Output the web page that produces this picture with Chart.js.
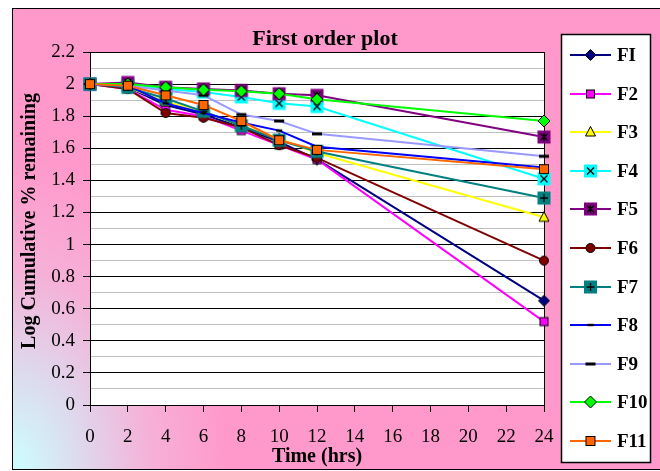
<!DOCTYPE html>
<html>
<head>
<meta charset="utf-8">
<title>First order plot</title>
<script src="https://cdn.jsdelivr.net/npm/chart.js@4/dist/chart.umd.min.js"></script>
<style>
  html, body { margin: 0; padding: 0; background: #fff; overflow: hidden; }
  #wrap { position: relative; width: 660px; height: 471px; }
</style>
</head>
<body>
<div id="wrap"><canvas id="chart" width="660" height="471"></canvas></div>
<script>
// Sampling times (hours)
const hours = [0, 2, 4, 6, 8, 10, 12, 24];

// Log cumulative % remaining for each formulation
const F1  = [2.00, 1.98, 1.87, 1.81, 1.73, 1.64, 1.53, 0.65];
const F2  = [2.00, 1.97, 1.84, 1.80, 1.71, 1.62, 1.53, 0.52];
const F3  = [2.00, 1.98, 1.89, 1.83, 1.74, 1.66, 1.57, 1.17];
const F4  = [2.00, 2.00, 1.97, 1.95, 1.92, 1.88, 1.86, 1.41];
const F5  = [2.00, 2.01, 1.98, 1.97, 1.96, 1.94, 1.93, 1.67];
const F6  = [2.00, 1.97, 1.82, 1.79, 1.73, 1.62, 1.54, 0.90];
const F7  = [2.00, 1.98, 1.91, 1.83, 1.74, 1.65, 1.58, 1.29];
const F8  = [2.00, 1.99, 1.88, 1.82, 1.76, 1.71, 1.61, 1.48];
const F9  = [2.00, 1.99, 1.96, 1.93, 1.81, 1.77, 1.69, 1.55];
const F10 = [2.00, 2.00, 1.98, 1.965, 1.955, 1.94, 1.905, 1.77];
const F11 = [2.00, 1.99, 1.93, 1.87, 1.77, 1.65, 1.59, 1.47];

const seriesLabels = ['FI', 'F2', 'F3', 'F4', 'F5', 'F6', 'F7', 'F8', 'F9', 'F10', 'F11'];
const seriesValues = [F1, F2, F3, F4, F5, F6, F7, F8, F9, F10, F11];

// Axis tick values
const xTickStep = 2;
const yTickStep = 0.1;

// Line colour and marker look of each series
const seriesStyle = [
  { line: '#000080', shape: 'diamond',  fill: '#000080', size: 5.5 },
  { line: '#ff00ff', shape: 'square',   fill: '#ff00ff', size: 8 },
  { line: '#ffff00', shape: 'triangle', fill: '#ffff00', size: 10 },
  { line: '#00ffff', shape: 'xbox',     fill: '#00ffff', size: 13 },
  { line: '#800080', shape: 'starbox',  fill: '#800080', size: 13 },
  { line: '#800000', shape: 'circle',   fill: '#800000', size: 4.5 },
  { line: '#008080', shape: 'plusbox',  fill: '#008080', size: 13 },
  { line: '#0000ff', shape: 'dash',     fill: '#000000', size: 6 },
  { line: '#9999ff', shape: 'dash',     fill: '#000000', size: 10 },
  { line: '#00ff00', shape: 'diamond',  fill: '#00ff00', size: 6 },
  { line: '#ff6600', shape: 'square',   fill: '#ff6600', size: 9 }
];

const SERIF = '"Liberation Serif", "Times New Roman", Times, serif';

function drawMarker(ctx, st, cx, cy) {
  ctx.save();
  ctx.lineWidth = 1;
  ctx.strokeStyle = '#000';
  ctx.fillStyle = st.fill;
  const s = st.size;
  switch (st.shape) {
    case 'diamond':
      ctx.beginPath();
      ctx.moveTo(cx, cy - s); ctx.lineTo(cx + s, cy); ctx.lineTo(cx, cy + s); ctx.lineTo(cx - s, cy);
      ctx.closePath(); ctx.fill(); ctx.stroke();
      break;
    case 'square':
      ctx.fillRect(cx - s / 2, cy - s / 2, s, s);
      ctx.strokeRect(cx - s / 2, cy - s / 2, s, s);
      break;
    case 'triangle':
      ctx.beginPath();
      ctx.moveTo(cx, cy - s / 2 - 0.5); ctx.lineTo(cx + s / 2, cy + s / 2 - 1); ctx.lineTo(cx - s / 2, cy + s / 2 - 1);
      ctx.closePath(); ctx.fill(); ctx.stroke();
      break;
    case 'circle':
      ctx.beginPath(); ctx.arc(cx, cy, s, 0, Math.PI * 2); ctx.fill(); ctx.stroke();
      break;
    case 'xbox':
    case 'starbox':
    case 'plusbox': {
      ctx.fillRect(cx - s / 2, cy - s / 2, s, s);
      const a = 3.5;
      ctx.lineWidth = 1.3;
      ctx.beginPath();
      if (st.shape !== 'plusbox') {
        ctx.moveTo(cx - a, cy - a); ctx.lineTo(cx + a, cy + a);
        ctx.moveTo(cx + a, cy - a); ctx.lineTo(cx - a, cy + a);
      }
      if (st.shape === 'starbox' || st.shape === 'plusbox') {
        ctx.moveTo(cx, cy - a - 0.5); ctx.lineTo(cx, cy + a + 0.5);
      }
      if (st.shape === 'plusbox') {
        ctx.moveTo(cx - a - 0.5, cy); ctx.lineTo(cx + a + 0.5, cy);
      }
      ctx.stroke();
      break;
    }
    case 'dash':
      ctx.fillRect(cx - s / 2, cy - (s > 7 ? 1.5 : 1.2), s, s > 7 ? 3 : 2.4);
      break;
  }
  ctx.restore();
}

function markerCanvas(st) {
  const c = document.createElement('canvas');
  c.width = 18; c.height = 18;
  drawMarker(c.getContext('2d'), st, 9, 9);
  return c;
}

const markers = seriesStyle.map(markerCanvas);

const datasets = seriesLabels.map((label, i) => ({
  label,
  data: hours.map((h, k) => ({ x: h, y: seriesValues[i][k] })),
  borderColor: seriesStyle[i].line,
  backgroundColor: seriesStyle[i].fill,
  borderWidth: 2,
  pointStyle: markers[i],
  pointRadius: 6,
  pointHoverRadius: 6,
  tension: 0,
  clip: false,
  order: seriesLabels.length - i
}));

// Gradient page, frame and white plot area
const backdrop = {
  id: 'backdrop',
  beforeDraw(chart) {
    const { ctx, chartArea: a } = chart;
    ctx.save();
    ctx.fillStyle = '#fff';
    ctx.fillRect(0, 0, chart.width, chart.height);
    ctx.beginPath();
    ctx.rect(12, 8, chart.width - 12, 462);
    ctx.clip();
    ctx.translate(12, 470);
    ctx.scale(1, 1.45);
    const g = ctx.createRadialGradient(0, 0, 0, 0, 0, 215);
    g.addColorStop(0, '#ccffff');
    g.addColorStop(0.3, '#dcdcee');
    g.addColorStop(0.65, '#f6b0d8');
    g.addColorStop(1, '#ff99cc');
    ctx.fillStyle = g;
    ctx.fillRect(-20, -400, 700, 420);
    ctx.restore();

    ctx.save();
    ctx.strokeStyle = '#000';
    ctx.lineWidth = 1;
    ctx.strokeRect(12.5, 8.5, chart.width, 461);
    ctx.fillStyle = '#fff';
    ctx.fillRect(a.left, a.top, a.right - a.left, a.bottom - a.top);
    ctx.restore();
  },
  beforeDatasetsDraw(chart) {
    const { ctx, chartArea: a } = chart;
    ctx.save();
    ctx.strokeStyle = '#000';
    ctx.lineWidth = 1;
    ctx.beginPath();
    ctx.moveTo(Math.round(a.right) + 0.5, a.top);
    ctx.lineTo(Math.round(a.right) + 0.5, a.bottom);
    ctx.stroke();
    ctx.restore();
  },
  afterDraw(chart) {
    const { ctx } = chart;
    ctx.save();
    // chart title
    ctx.fillStyle = '#000';
    ctx.font = 'bold 22px ' + SERIF;
    ctx.textAlign = 'center';
    ctx.textBaseline = 'alphabetic';
    ctx.fillText('First order plot', 325, 45);

    // value axis title
    ctx.save();
    ctx.translate(30, 221);
    ctx.rotate(-Math.PI / 2);
    ctx.font = 'bold 20px ' + SERIF;
    ctx.textBaseline = 'middle';
    ctx.fillText('Log Cumulative % remaining', 0, 0);
    ctx.restore();

    // legend box
    ctx.fillStyle = '#fff';
    ctx.fillRect(561, 34, 89, 428);
    ctx.strokeStyle = '#000';
    ctx.lineWidth = 1.5;
    ctx.strokeRect(561.5, 34.5, 89, 428);
    ctx.font = 'bold 19px ' + SERIF;
    ctx.textAlign = 'left';
    ctx.textBaseline = 'middle';
    chart.data.datasets.forEach((ds, i) => {
      const cy = Math.round(55 + i * 38.6);
      ctx.strokeStyle = ds.borderColor;
      ctx.lineWidth = 2;
      ctx.beginPath();
      ctx.moveTo(570, cy);
      ctx.lineTo(611, cy);
      ctx.stroke();
      drawMarker(ctx, seriesStyle[i], 590.5, cy);
      ctx.fillStyle = '#000';
      ctx.fillText(ds.label, 617, cy + 1);
    });
    ctx.restore();
  }
};

const isMajor = v => Math.round(v * 10) % 2 === 0;

new Chart(document.getElementById('chart'), {
  type: 'line',
  data: { datasets },
  plugins: [backdrop],
  options: {
    responsive: false,
    animation: false,
    events: [],
    layout: { padding: { top: 52, right: 116, bottom: 0, left: 0 } },
    plugins: {
      legend: { display: false },
      title: { display: false },
      tooltip: { enabled: false }
    },
    scales: {
      x: {
        type: 'linear',
        min: 0,
        max: 24,
        afterFit(scale) { scale.height = 66; },
        ticks: {
          stepSize: xTickStep,
          autoSkip: false,
          maxRotation: 0,
          color: '#000',
          padding: 14,
          font: { family: SERIF, size: 19 }
        },
        grid: { drawOnChartArea: false, drawTicks: true, tickLength: 7, color: '#000' },
        border: { color: '#000', width: 1 },
        title: {
          display: true,
          text: 'Time (hrs)',
          color: '#000',
          font: { family: SERIF, size: 20, weight: 'bold' },
          padding: { top: 0, bottom: 2 }
        }
      },
      y: {
        min: 0,
        max: 2.2,
        afterFit(scale) { scale.width = 90; },
        ticks: {
          stepSize: yTickStep,
          autoSkip: false,
          color: '#000',
          padding: 8,
          font: { family: SERIF, size: 19 },
          callback: v => isMajor(v) ? String(Math.round(v * 10) / 10) : ''
        },
        grid: {
          tickLength: 7,
          color: c => isMajor(c.tick.value) ? '#000' : '#c0c0c0',
          tickColor: c => isMajor(c.tick.value) ? '#000' : 'rgba(0,0,0,0)',
          lineWidth: 1
        },
        border: { color: '#000', width: 1 }
      }
    }
  }
});
</script>
</body>
</html>
